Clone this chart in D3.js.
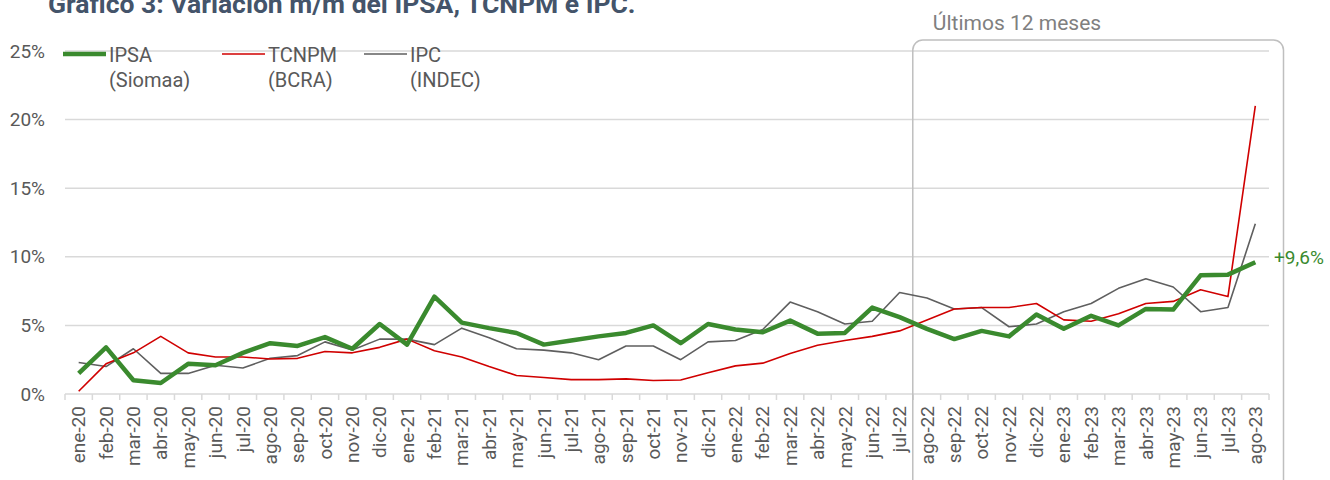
<!DOCTYPE html>
<html>
<head>
<meta charset="utf-8">
<script src="https://cdn.jsdelivr.net/npm/d3@7"></script>
<style>
  body { margin: 0; background: #fff; }
  text { font-family: Roboto, "Noto Sans", sans-serif; }
</style>
</head>
<body>
<script>
// months ene-20 .. ago-23
var months = ["ene-20","feb-20","mar-20","abr-20","may-20","jun-20","jul-20","ago-20","sep-20","oct-20","nov-20","dic-20",
  "ene-21","feb-21","mar-21","abr-21","may-21","jun-21","jul-21","ago-21","sep-21","oct-21","nov-21","dic-21",
  "ene-22","feb-22","mar-22","abr-22","may-22","jun-22","jul-22","ago-22","sep-22","oct-22","nov-22","dic-22",
  "ene-23","feb-23","mar-23","abr-23","may-23","jun-23","jul-23","ago-23"];

var ipsa = [1.5,3.4,1.0,0.8,2.2,2.1,3.0,3.7,3.5,4.15,3.3,5.1,
  3.6,7.1,5.2,4.8,4.45,3.6,3.9,4.2,4.45,5.0,3.7,5.1,
  4.7,4.5,5.35,4.4,4.45,6.3,5.6,4.75,4.0,4.6,4.2,5.8,
  4.75,5.7,5.0,6.2,6.15,8.65,8.7,9.6];

var tcnpm = [0.2,2.2,3.0,4.2,3.0,2.7,2.7,2.55,2.6,3.1,3.0,3.4,
  4.0,3.15,2.7,2.0,1.35,1.2,1.05,1.05,1.1,0.98,1.02,1.55,
  2.05,2.25,2.95,3.55,3.9,4.2,4.6,5.4,6.2,6.3,6.3,6.6,
  5.4,5.3,5.85,6.6,6.75,7.6,7.1,21.0];

var ipc = [2.3,2.0,3.3,1.5,1.5,2.1,1.9,2.6,2.8,3.8,3.2,4.0,
  4.0,3.6,4.8,4.1,3.3,3.2,3.0,2.5,3.5,3.5,2.5,3.8,
  3.9,4.7,6.7,6.0,5.1,5.3,7.4,7.0,6.2,6.3,4.9,5.1,
  6.0,6.6,7.7,8.4,7.8,6.0,6.3,12.4];

var yTicks = [0,5,10,15,20,25];

var series = [
  {name: "IPSA", sub: "(Siomaa)", values: ipsa, color: "#3A8A2E", width: 4.5},
  {name: "TCNPM", sub: "(BCRA)", values: tcnpm, color: "#D00000", width: 1.6},
  {name: "IPC", sub: "(INDEC)", values: ipc, color: "#5F5F5F", width: 1.6}
];

var W = 1330, H = 480;
var svg = d3.select("body").append("svg").attr("width", W).attr("height", H);

var x = d3.scaleBand().domain(months).range([65, 1269]);
var y = d3.scaleLinear().domain([0, 25]).range([394, 51]);

// title (cut off at top, as in the source)
svg.append("text").attr("x", 48).attr("y", 13)
  .attr("font-size", 26.5).attr("font-weight", "bold").attr("fill", "#44546A")
  .text("Gráfico 3: Variación m/m del IPSA, TCNPM e IPC.");

// gridlines
svg.append("g").selectAll("line").data(yTicks).enter().append("line")
  .attr("x1", 65).attr("x2", 1269)
  .attr("y1", function(d){ return y(d); }).attr("y2", function(d){ return y(d); })
  .attr("stroke", "#D9D9D9").attr("stroke-width", 1.5);

// y labels
svg.append("g").selectAll("text").data(yTicks).enter().append("text")
  .attr("x", 45).attr("y", function(d){ return y(d); }).attr("dy", "0.35em")
  .attr("text-anchor", "end").attr("font-size", 19).attr("fill", "#595959")
  .text(function(d){ return d + "%"; });

// x ticks at band edges
var edges = months.map(function(m){ return x(m); }).concat([x.range()[1]]);
svg.append("g").selectAll("line").data(edges).enter().append("line")
  .attr("x1", function(d){ return d; }).attr("x2", function(d){ return d; })
  .attr("y1", 394).attr("y2", 400)
  .attr("stroke", "#D9D9D9").attr("stroke-width", 1.5);

// x labels
svg.append("g").selectAll("text").data(months).enter().append("text")
  .attr("transform", function(d){ return "translate(" + (x(d) + x.bandwidth()/2) + ",406) rotate(-90)"; })
  .attr("dy", "0.35em").attr("text-anchor", "end")
  .attr("font-size", 19).attr("fill", "#595959")
  .text(function(d){ return d; });

// highlight box for last 12 months
svg.append("rect")
  .attr("x", x("ago-22") - 0.5).attr("y", 40)
  .attr("width", 1284 - x("ago-22")).attr("height", 460)
  .attr("rx", 10).attr("fill", "none")
  .attr("stroke", "#BFBFBF").attr("stroke-width", 1.5);
svg.append("text").attr("x", 1017).attr("y", 30)
  .attr("text-anchor", "middle").attr("font-size", 21).attr("fill", "#808080")
  .text("Últimos 12 meses");

// lines (IPC, TCNPM first, IPSA on top)
var line = d3.line()
  .x(function(d, i){ return x(months[i]) + x.bandwidth()/2; })
  .y(function(d){ return y(d); });

series.slice().reverse().forEach(function(s){
  svg.append("path").datum(s.values)
    .attr("d", line).attr("fill", "none")
    .attr("stroke", s.color).attr("stroke-width", s.width)
    .attr("stroke-linejoin", "round");
});

// last value label
svg.append("text")
  .attr("x", 1274).attr("y", y(ipsa[ipsa.length-1]) - 5)
  .attr("dy", "0.35em").attr("font-size", 19).attr("fill", "#3A8A2E")
  .text("+9,6%");

// legend
var legX = [63, 222, 364];
series.forEach(function(s, i){
  var g = svg.append("g");
  g.append("line").attr("x1", legX[i]).attr("x2", legX[i] + 43)
    .attr("y1", 54).attr("y2", 54)
    .attr("stroke", s.color).attr("stroke-width", s.width);
  g.append("text").attr("x", legX[i] + 46).attr("y", 55).attr("dy", "0.35em")
    .attr("font-size", 20).attr("fill", "#595959").text(s.name);
  g.append("text").attr("x", legX[i] + 46).attr("y", 80).attr("dy", "0.35em")
    .attr("font-size", 20).attr("fill", "#595959").text(s.sub);
});
</script>
</body>
</html>
